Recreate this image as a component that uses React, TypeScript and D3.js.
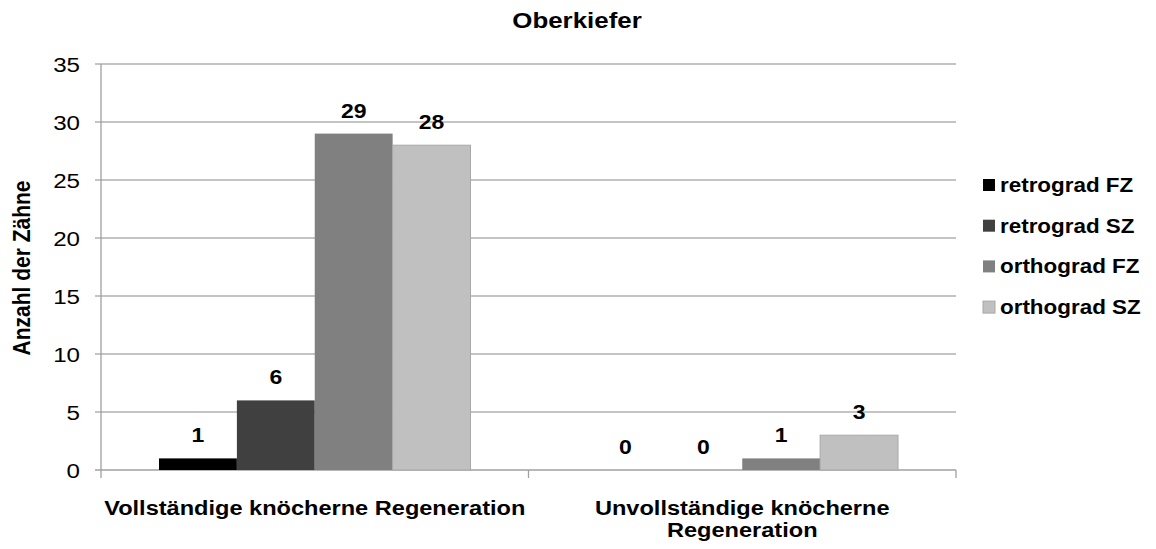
import React from "react";
import * as d3 from "d3";

const categories = ["Vollständige knöcherne Regeneration", "Unvollständige knöcherne Regeneration"];
const categoryLines = [["Vollständige knöcherne Regeneration"], ["Unvollständige knöcherne", "Regeneration"]];
const seriesNames = ["retrograd FZ", "retrograd SZ", "orthograd FZ", "orthograd SZ"];
const seriesColors = ["#000000", "#404040", "#808080", "#c0c0c0"];
const values = [
  [1, 6, 29, 28],
  [0, 0, 1, 3],
];
const yTicks = [0, 5, 10, 15, 20, 25, 30, 35];
const title = "Oberkiefer";
const yLabel = "Anzahl der Zähne";

const W = 1156;
const H = 549;
const SX = 1.15;
const FONT = "'Liberation Sans', Arial, sans-serif";

export default function App() {
  const left = 101;
  const right = 956;
  const top = 64;
  const bottom = 470;

  const x0 = d3.scaleBand<string>().domain(categories).range([left, right]).paddingInner(0).paddingOuter(0);
  const x1 = d3
    .scaleBand<string>()
    .domain(seriesNames)
    .range([58, x0.bandwidth() - 58])
    .padding(0);
  const y = d3.scaleLinear().domain([0, 35]).range([bottom, top]);

  const t = (x: number, yy: number, extra = "") => `translate(${x},${yy}) scale(${SX},1)${extra}`;

  return (
    <svg width={W} height={H} style={{ display: "block", position: "absolute", left: 0, top: 0 }} fontFamily={FONT}>
      <rect x={0} y={0} width={W} height={H} fill="#ffffff" />
      {/* title */}
      <text transform={t(577, 28)} textAnchor="middle" fontSize={22.5} fontWeight="bold" fill="#000">
        {title}
      </text>
      {/* gridlines */}
      {yTicks.map((v) => (
        <line key={"g" + v} x1={95} x2={right} y1={y(v)} y2={y(v)} stroke={v === 0 ? "#a0a0a0" : "#b0b0b0"} strokeWidth={1.3} />
      ))}
      {/* y axis */}
      <line x1={left} x2={left} y1={top} y2={bottom} stroke="#a0a0a0" strokeWidth={1.3} />
      {/* x ticks */}
      {[left, ...categories.map((c) => (x0(c) as number) + x0.bandwidth())].map((xx, i) => (
        <line key={"xt" + i} x1={xx} x2={xx} y1={bottom} y2={bottom + 8} stroke="#a0a0a0" strokeWidth={1.3} />
      ))}
      {/* y tick labels */}
      {yTicks.map((v) => (
        <text key={"yl" + v} transform={t(80, y(v) + 7.5)} textAnchor="end" fontSize={21} fill="#000">
          {v}
        </text>
      ))}
      {/* y label */}
      <text transform={t(30, 268, " rotate(-90)")} textAnchor="middle" fontSize={21} fontWeight="bold" fill="#000">
        {yLabel}
      </text>
      {/* bars */}
      {categories.map((c, ci) => (
        <g key={c}>
          {seriesNames.map((s, si) => {
            const v = values[ci][si];
            const bx = (x0(c) as number) + (x1(s) as number);
            const bw = x1.bandwidth();
            return (
              <g key={s}>
                {v > 0 && (
                  <rect
                    x={bx}
                    y={y(v)}
                    width={bw}
                    height={bottom - y(v)}
                    fill={seriesColors[si]}
                    stroke={si === 3 ? "#a8a8a8" : "none"}
                    strokeWidth={1}
                  />
                )}
                <text transform={t(bx + bw / 2, y(v) - 16)} textAnchor="middle" fontSize={20} fontWeight="bold" fill="#000">
                  {v}
                </text>
              </g>
            );
          })}
        </g>
      ))}
      {/* category labels */}
      {categories.map((c, ci) =>
        categoryLines[ci].map((line, li) => (
          <text
            key={c + li}
            transform={t((x0(c) as number) + x0.bandwidth() / 2, 515 + li * 21.5)}
            textAnchor="middle"
            fontSize={20.5}
            fontWeight="bold"
            fill="#000"
          >
            {line}
          </text>
        ))
      )}
      {/* legend */}
      {seriesNames.map((s, si) => {
        const cy = 185 + si * 40.7;
        return (
          <g key={"lg" + s}>
            <rect x={983} y={cy - 6} width={12} height={12} fill={seriesColors[si]} stroke={si === 3 ? "#a8a8a8" : "none"} />
            <text transform={t(1000, cy + 7)} fontSize={19.5} fontWeight="bold" fill="#000">
              {s}
            </text>
          </g>
        );
      })}
    </svg>
  );
}
